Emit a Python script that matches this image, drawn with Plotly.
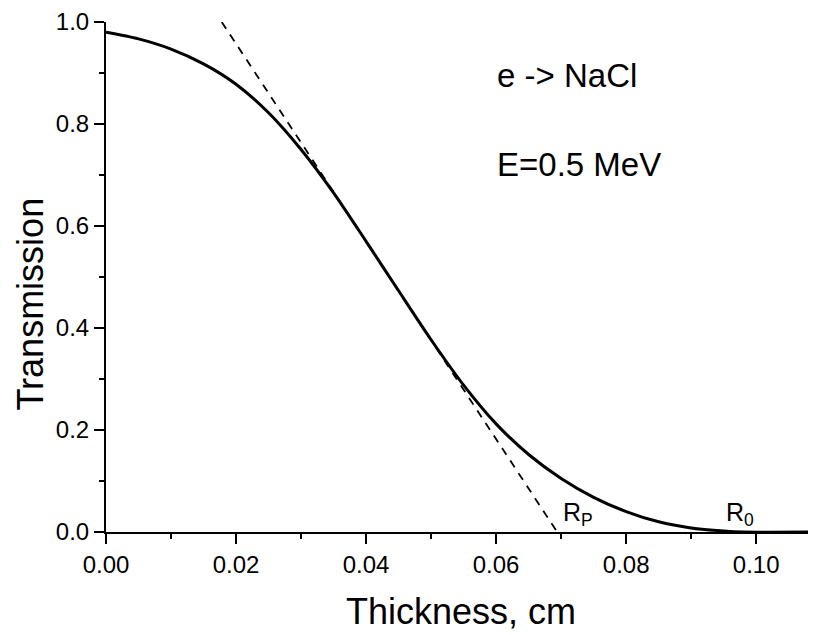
import plotly.graph_objects as go

# Data
thickness = [0, 0.005, 0.01, 0.015, 0.02, 0.025, 0.03, 0.035, 0.04, 0.045, 0.05,
             0.055, 0.06, 0.065, 0.07, 0.075, 0.08, 0.085, 0.09, 0.095, 0.098, 0.1092]
transmission = [0.98, 0.967, 0.947, 0.918, 0.878, 0.822, 0.750, 0.665, 0.570, 0.473, 0.377,
                0.288, 0.212, 0.152, 0.105, 0.068, 0.040, 0.020, 0.008, 0.002, 0.0, 0.0]
tangent_x = [0.0178, 0.0694]
tangent_y = [1.0, 0.0]
x_ticks = [0.0, 0.02, 0.04, 0.06, 0.08, 0.10]
x_tick_labels = ["0.00", "0.02", "0.04", "0.06", "0.08", "0.10"]
y_ticks = [0.0, 0.2, 0.4, 0.6, 0.8, 1.0]
y_tick_labels = ["0.0", "0.2", "0.4", "0.6", "0.8", "1.0"]

FONT = "Liberation Sans, Arial, sans-serif"

fig = go.Figure()
fig.add_trace(go.Scatter(x=tangent_x, y=tangent_y, mode="lines",
                         line=dict(color="black", width=1.8, dash="8px,7px"),
                         showlegend=False, hoverinfo="skip"))
fig.add_trace(go.Scatter(x=thickness, y=transmission, mode="lines",
                         line=dict(color="black", width=3, shape="spline", smoothing=0.8),
                         showlegend=False))

axis_common = dict(showline=True, linecolor="black", linewidth=2, ticks="outside",
                   ticklen=10, tickwidth=2, tickcolor="black", showgrid=False,
                   zeroline=False, ticklabeloverflow="allow",
                   tickfont=dict(family=FONT, size=24, color="black"))

fig.update_xaxes(range=[0, 0.1092], tickvals=x_ticks, ticktext=x_tick_labels,
                 minor=dict(ticks="outside", ticklen=5, tickwidth=2, tickcolor="black", dtick=0.01),
                 **axis_common)
fig.update_yaxes(range=[0, 1.0], tickvals=y_ticks, ticktext=y_tick_labels,
                 minor=dict(ticks="outside", ticklen=5, tickwidth=2, tickcolor="black", dtick=0.1),
                 **axis_common)

ann_font = dict(family=FONT, size=33, color="black")
fig.add_annotation(x=0.0598, y=0.896, xref="x", yref="y", text="e -&gt; NaCl",
                   showarrow=False, xanchor="left", yanchor="middle", font=ann_font)
fig.add_annotation(x=0.0598, y=0.72, xref="x", yref="y", text="E=0.5 MeV",
                   showarrow=False, xanchor="left", yanchor="middle", font=ann_font)
fig.add_annotation(x=0.0700, y=0.0, xref="x", yref="y", text="R<sub>P</sub>",
                   showarrow=False, xanchor="left", yanchor="bottom",
                   font=dict(family=FONT, size=25, color="black"))
fig.add_annotation(x=0.0951, y=0.0, xref="x", yref="y", text="R<sub>0</sub>",
                   showarrow=False, xanchor="left", yanchor="bottom",
                   font=dict(family=FONT, size=25, color="black"))

# Axis titles
fig.add_annotation(x=0.5, y=-0.112, xref="paper", yref="paper", text="Thickness, cm",
                   showarrow=False, xanchor="center", yanchor="top",
                   font=dict(family=FONT, size=36, color="black"))
fig.add_annotation(x=-0.138, y=0.447, xref="paper", yref="paper", text="Transmission",
                   showarrow=False, xanchor="left", yanchor="middle", textangle=-90,
                   font=dict(family=FONT, size=36, color="black"))

fig.update_layout(width=808, height=627, plot_bgcolor="white", paper_bgcolor="white",
                  margin=dict(l=98, r=0, t=12, b=103))

fig.write_html("out.html")
